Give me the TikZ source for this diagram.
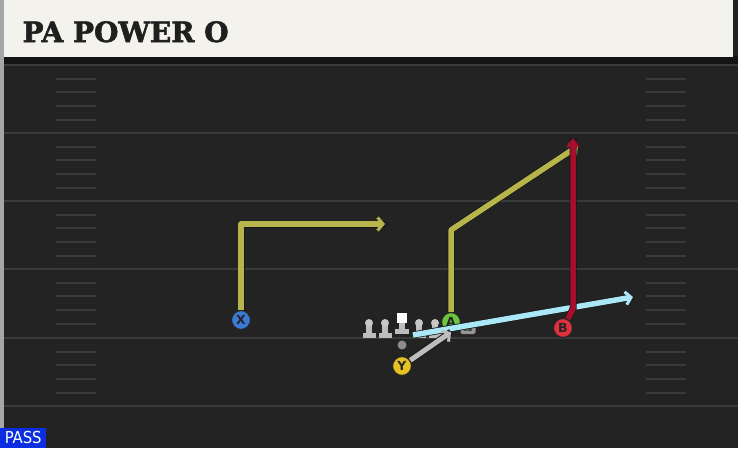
\documentclass[tikz,border=0pt]{standalone}
\usepackage{fontspec}
\setmainfont{DejaVu Sans}
\newfontfamily\titlefont[BoldFeatures={FakeBold=2}]{DejaVu Serif}
\newfontfamily\condfont{DejaVu Sans Condensed}
\usetikzlibrary{arrows.meta}
\definecolor{fieldbg}{HTML}{232323}
\definecolor{yardline}{HTML}{3A3A3A}
\definecolor{headerbg}{HTML}{F4F2EC}
\definecolor{passblue}{HTML}{0A2EE0}
\definecolor{olive}{HTML}{B6B44A}
\definecolor{crimson}{HTML}{A60F2C}
\definecolor{icecyan}{HTML}{AAE8F8}
\definecolor{xblue}{HTML}{3C7AD8}
\definecolor{agreen}{HTML}{6CC63C}
\definecolor{bred}{HTML}{E2303C}
\definecolor{yyellow}{HTML}{E8C222}
\definecolor{linegray}{HTML}{BDBDBD}

\begin{document}
\begin{tikzpicture}[x=1pt, y=-1pt,
    player/.style ={circle, draw=black!85, line width=1.2pt, minimum size=19pt,
      inner sep=0pt, text=black!85, font=\bfseries\fontsize{12.5}{12.5}\selectfont},
    route/.style ={line width=5.5pt, line join=round,
      preaction={draw=black!90, line width=7pt, arrows=-},
      -{Straight Barb[length=5.5pt, width=13pt, line width=3pt]}},
    lhead/.style ={circle, fill=linegray!85, minimum size=8pt, inner sep=0pt}]
   % field and header
   \useasboundingbox (0,0) rectangle (738,448);
   \fill[fieldbg] (0,0) rectangle (738,448);
   \fill[black!92] (0,56) rectangle (738,64);
   \fill[headerbg] (0,0) rectangle (733,57);
   \fill[black!35] (0,0) rectangle (4,448);
   \node[anchor=base west, text=black!88, font=\titlefont\bfseries\fontsize{28}{28}\selectfont]
     (title) at (19,42) {PA POWER O};

   % yard lines and hashes
   \foreach \y in {65,133,201,269,338,406}
     \draw[yardline, line width=2pt] (4,\y) -- (738,\y);
   \foreach \b in {65,133,201,269,338}
     \foreach \d in {14,27,41,55} {
       \draw[yardline, line width=1.5pt] (56,\b+\d) -- (96,\b+\d);
       \draw[yardline, line width=1.5pt] (646,\b+\d) -- (686,\b+\d);
     }

   % line
   \foreach \n/\x in {LT/369,LG/385,RG/419,RT/435} {
     \fill[linegray] (\x-3,325) rectangle (\x+3,334);
     \fill[linegray] (\x-6.5,332.5) rectangle (\x+6.5,338);
     \node[lhead] (\n) at (\x,323) {};
   }
   \fill[linegray] (399,320) rectangle (405,331);
   \fill[linegray] (395,328.5) rectangle (409,334);
   \node[fill=white, minimum size=10pt, inner sep=0pt] (C) at (402,318) {};
   \node[circle, fill=black!45, minimum size=9pt, inner sep=0pt] (ball) at (402,345) {};

   % players
   \node[player, fill=xblue]    (X) at (241,320) {X};
   \node[player, fill=agreen]   (A) at (451,322) {A};
   \node[player, fill=bred]     (B) at (563,328) {B};
   \node[player, fill=yyellow]  (Y) at (402,366) {Y};
   \node[rounded corners=2pt, fill=black!42, minimum width=15pt, minimum height=10pt,
     inner sep=0pt, text=black!85, font=\bfseries\fontsize{5.5}{5.5}\selectfont] (RB) at (468,329) {RB};

   \coordinate (xturn) at (241,224);
   \coordinate (xend)  at (385,224);
   \coordinate (aturn) at (451,230);
   \coordinate (aend)  at (578,146);
   \coordinate (bturn) at (573,309);
   \coordinate (bend)  at (573,138);
   \coordinate (fake)  at (413,335);
   \coordinate (cend)  at (633,297);

   % routes
   \draw[route, icecyan] (fake) -- (cend);
   \draw[route, linegray, line width=5pt] (Y) -- (A.south);
   \draw[route, olive] (X) -- (xturn) -- (xend);
   \draw[route, olive] (A) -- (aturn) -- (aend);
   \draw[route, crimson, -{Triangle[length=9pt, width=13pt]}] (B) -- (bturn) -- (bend);

   % play type
   \node[fill=passblue, text=white, anchor=south west, minimum width=46pt, minimum height=20pt,
     inner sep=0pt, font=\condfont\fontsize{16.5}{16.5}\selectfont] (pass) at (0,448) {PASS};
 \end{tikzpicture}
\end{document}
